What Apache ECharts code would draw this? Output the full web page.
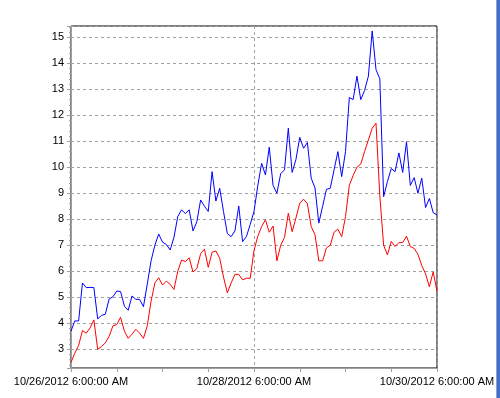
<!DOCTYPE html>
<html>
<head>
<meta charset="utf-8">
<script src="https://cdn.jsdelivr.net/npm/echarts@6/dist/echarts.min.js"></script>
<style>
  html, body { margin: 0; padding: 0; background: #fff; }
  #chart { width: 500px; height: 398px; }
</style>
</head>
<body>
<div id="chart"></div>
<script>
// hourly readings, 10/26/2012 6:00 AM .. 10/30/2012 6:00 AM
const startUtc = Date.UTC(2012, 9, 26, 6, 0, 0)
const hoursPerStep = 1

const blueValues = [
  3.7, 4.09, 4.09, 5.55, 5.37, 5.38, 5.37, 4.17, 4.3, 4.35,
  4.93, 5.02, 5.24, 5.22, 4.66, 4.5, 5.05, 4.92, 4.92, 4.64,
  5.5, 6.4, 7.0, 7.43, 7.12, 7.03, 6.82, 7.3, 8.1, 8.36,
  8.22, 8.36, 7.55, 7.9, 8.74, 8.5, 8.3, 9.83, 8.7, 9.19,
  8.3, 7.45, 7.33, 7.55, 8.51, 7.14, 7.33, 7.8, 8.3, 9.3,
  10.15, 9.7, 10.77, 9.3, 9.0, 9.75, 9.9, 11.5, 9.8, 10.3,
  11.15, 10.73, 10.95, 9.58, 9.2, 7.85, 8.5, 9.15, 9.19, 9.9,
  10.6, 9.64, 10.6, 12.68, 12.6, 13.5, 12.6, 12.95, 13.5, 15.24,
  13.75, 13.4, 8.87, 9.45, 9.95, 9.83, 10.55, 9.8, 10.98, 9.3,
  9.6, 9.0, 9.58, 8.45, 8.8, 8.25, 8.17
]

const redValues = [
  2.5, 2.85, 3.15, 3.72, 3.62, 3.82, 4.13, 3.0, 3.1, 3.25,
  3.5, 3.9, 3.95, 4.23, 3.7, 3.42, 3.58, 3.77, 3.62, 3.42,
  3.9, 4.85, 5.55, 5.75, 5.47, 5.62, 5.5, 5.3, 6.0, 6.43,
  6.37, 6.52, 5.97, 6.1, 6.68, 6.85, 6.15, 6.73, 6.78, 6.5,
  5.78, 5.17, 5.55, 5.88, 5.88, 5.67, 5.73, 5.73, 6.8, 7.35,
  7.72, 7.98, 7.5, 7.74, 6.4, 7.0, 7.3, 8.23, 7.52, 8.05,
  8.62, 8.77, 8.6, 7.72, 7.4, 6.4, 6.4, 6.9, 7.0, 7.5,
  7.62, 7.33, 8.1, 9.3, 9.68, 10.0, 10.12, 10.6, 11.05, 11.5,
  11.69, 8.9, 7.0, 6.63, 7.15, 6.95, 7.1, 7.1, 7.35, 6.95,
  6.88, 6.65, 6.22, 5.9, 5.4, 5.98, 5.22
]

function fmtTime(ms) {
  const d = new Date(ms)
  let h = d.getUTCHours()
  const ampm = h < 12 ? 'AM' : 'PM'
  h = h % 12
  if (h === 0) h = 12
  const pad = (n) => (n < 10 ? '0' + n : '' + n)
  return (d.getUTCMonth() + 1) + '/' + d.getUTCDate() + '/' + d.getUTCFullYear() +
    ' ' + h + ':' + pad(d.getUTCMinutes()) + ':' + pad(d.getUTCSeconds()) + ' ' + ampm
}

const categories = blueValues.map((v, i) => fmtTime(startUtc + i * hoursPerStep * 3600 * 1000))

const gray = '#a0a0a0'
const font = { fontFamily: 'Liberation Sans', fontSize: 11, color: '#000' }

const chart = echarts.init(document.getElementById('chart'))
chart.setOption({
  animation: false,
  backgroundColor: '#fff',
  grid: {
    left: 71,
    right: 63,
    top: 26,
    bottom: 30,
    show: true,
    borderColor: '#000',
    borderWidth: 1,
    containLabel: false,
  },
  xAxis: {
    type: 'category',
    data: categories,
    boundaryGap: false,
    axisLine: { lineStyle: { color: gray, width: 1 } },
    axisTick: { show: true, interval: 11, length: 4, lineStyle: { color: gray } },
    axisLabel: { ...font, interval: 47, margin: 8 },
    splitLine: { show: true, interval: 47, lineStyle: { color: gray, type: [3, 3] } },
  },
  yAxis: {
    type: 'value',
    min: 2.28,
    max: 15.43,
    splitNumber: 13,
    axisLine: { show: true, lineStyle: { color: gray, width: 1 } },
    axisTick: { show: true, length: 4, lineStyle: { color: gray } },
    minorTick: { show: true, splitNumber: 5, length: 2, lineStyle: { color: gray } },
    axisLabel: { ...font, margin: 7, showMinLabel: false, showMaxLabel: false },
    splitLine: { show: true, lineStyle: { color: gray, type: [3, 3] } },
  },
  series: [
    {
      type: 'line',
      data: blueValues,
      showSymbol: false,
      lineStyle: { color: '#0000ff', width: 1 },
      itemStyle: { color: '#0000ff' },
      z: 3,
    },
    {
      type: 'line',
      data: redValues,
      showSymbol: false,
      lineStyle: { color: '#ff0000', width: 1 },
      itemStyle: { color: '#ff0000' },
      z: 2,
    },
  ],
  graphic: [
    { type: 'rect', shape: { x: 496, y: 0, width: 1, height: 398 }, style: { fill: '#a0a0a0' } },
    { type: 'rect', shape: { x: 497, y: 0, width: 3, height: 398 }, style: { fill: '#3a6fe0' } },
  ],
})
</script>
</body>
</html>
